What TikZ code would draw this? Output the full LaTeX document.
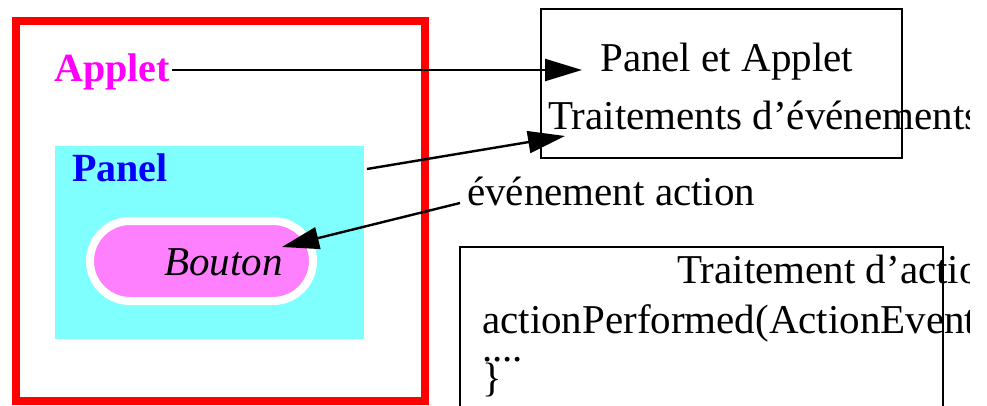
\documentclass[tikz,border=0pt]{standalone}
\usepackage{fontspec}
\setmainfont{Liberation Serif}
\usetikzlibrary{arrows.meta}
\definecolor{panelcyan}{HTML}{80FFFF}
\definecolor{boutonpink}{HTML}{FF80FF}
\definecolor{appletmagenta}{HTML}{FF00FF}
\definecolor{panelblue}{HTML}{0000FF}
\definecolor{framered}{HTML}{FF0000}
\begin{document}
\begin{tikzpicture}[x=1pt,y=-1pt,
  txt/.style={anchor=base west, inner sep=0pt, font=\fontsize{41}{45}\selectfont},
  boldtxt/.style={anchor=base west, inner sep=0pt, font=\fontsize{40}{44}\selectfont\bfseries},
  codebox/.style={draw, line width=2.4pt, inner sep=0pt},
  link/.style={line width=2.4pt, -{Triangle[length=37pt,width=22pt]}}]
\clip (0,0) rectangle (987,406);
\fill[white] (0,0) rectangle (987,406);

% Applet container
\node[draw=framered, line width=8pt, minimum width=409pt, minimum height=380pt, inner sep=0pt]
  (appletframe) at (220.5,211) {};
\node[boldtxt, text=appletmagenta] (applet) at (54,82) {Applet};

% Panel inside the applet
\node[fill=panelcyan, minimum width=309pt, minimum height=193pt, inner sep=0pt]
  (panel) at (209.5,242.5) {};
\node[boldtxt, text=panelblue] (panellbl) at (72,182) {Panel};

% Button
\node[fill=boutonpink, draw=white, line width=8pt, rounded corners=40pt,
  minimum width=223pt, minimum height=80pt, inner sep=0pt] (bouton) at (201.5,261) {};
\node[txt, font=\fontsize{41}{45}\selectfont\itshape] (boutonlbl) at (164,275) {Bouton};

% Event handling box
\node[codebox, minimum width=361pt, minimum height=149pt] (handler) at (721.5,83.5) {};
% Action listener box (open at the bottom)
\node[codebox, minimum width=483pt, minimum height=200pt] (listener) at (701.5,347) {};

% Texts, cut off at the right-hand margin of the text frame
\begin{scope}
\clip (0,0) rectangle (969,406);
\node[txt] (handler1) at (600,72) {Panel et Applet};
\node[txt] (handler2) at (548,130) {Traitements d’événements};
\node[txt] (evt) at (467,205) {événement action};
\node[txt] (listener1) at (677,283) {Traitement d’action};
\node[txt] (listener2) at (482,333) {actionPerformed(ActionEvent};
\node[txt] (listener3) at (482,361) {....};
\node[txt] (listener4) at (482,391) {\}};
\end{scope}

% Connectors
\coordinate (appletend) at (172,70);
\coordinate (panelend) at (367,169);
\coordinate (handlertipA) at (582,70);
\coordinate (handlertipB) at (565,136);
\coordinate (evtstart) at (460,203);
\coordinate (boutontip) at (282,247);
\draw[link] (appletend) -- (handlertipA);
\draw[link] (panelend) -- (handlertipB);
\draw[link] (evtstart) -- (boutontip);
\end{tikzpicture}
\end{document}
